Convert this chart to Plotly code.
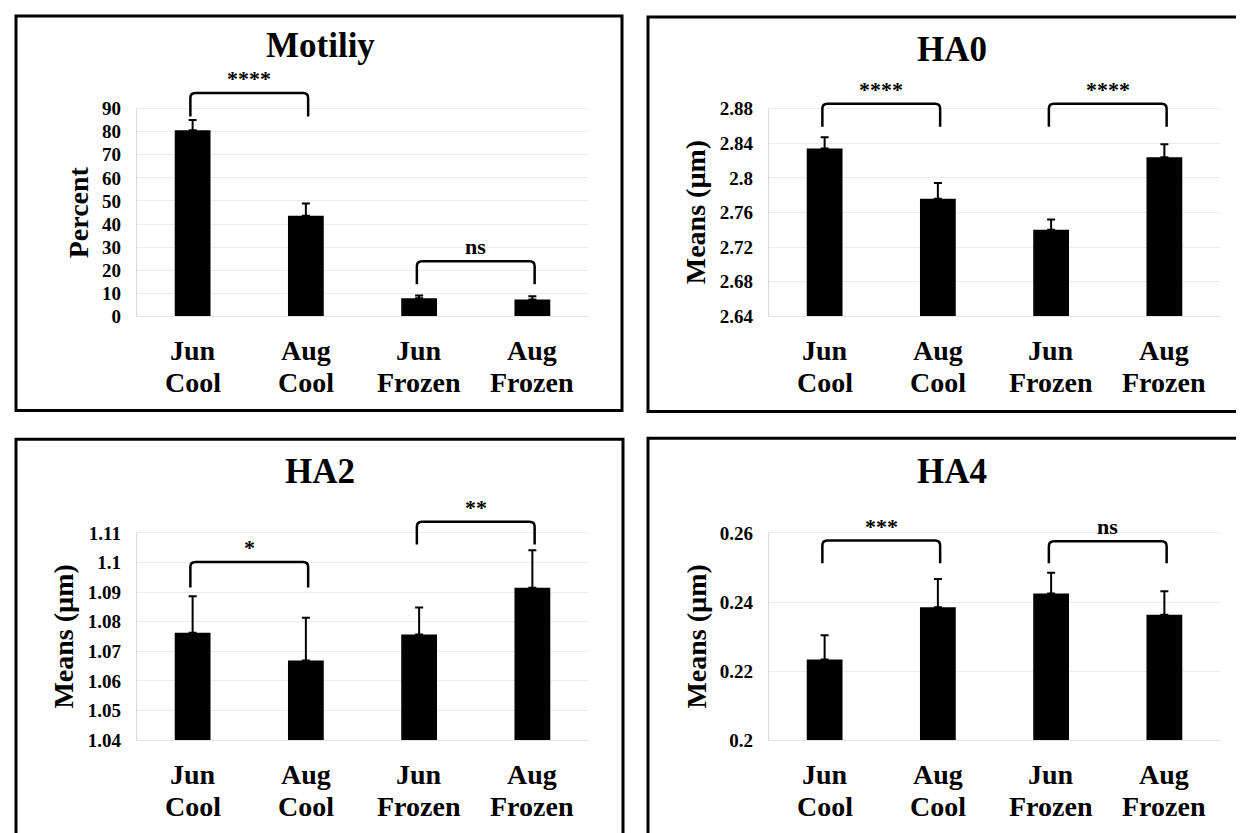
import plotly.graph_objects as go

# ---------------- data ----------------
months = ["Jun", "Aug", "Jun", "Aug"]
storage = ["Cool", "Cool", "Frozen", "Frozen"]
positions = [0, 1, 2, 3]

panel_titles = ["Motiliy", "HA0", "HA2", "HA4"]
y_titles = ["Percent", "Means (µm)", "Means (µm)", "Means (µm)"]

motility_mean = [80.6, 43.6, 7.9, 7.3]
motility_err = [4.5, 5.3, 1.1, 1.4]
ha0_mean = [2.834, 2.776, 2.740, 2.824]
ha0_err = [0.013, 0.018, 0.012, 0.015]
ha2_mean = [1.0763, 1.0669, 1.0757, 1.0915]
ha2_err = [0.0123, 0.0145, 0.0091, 0.0127]
ha4_mean = [0.2234, 0.2385, 0.2425, 0.2363]
ha4_err = [0.0070, 0.0082, 0.0060, 0.0068]

motility_ticks = [0, 10, 20, 30, 40, 50, 60, 70, 80, 90]
motility_ticklabels = ["0", "10", "20", "30", "40", "50", "60", "70", "80", "90"]
ha0_ticks = [2.64, 2.68, 2.72, 2.76, 2.80, 2.84, 2.88]
ha0_ticklabels = ["2.64", "2.68", "2.72", "2.76", "2.8", "2.84", "2.88"]
ha2_ticks = [1.04, 1.05, 1.06, 1.07, 1.08, 1.09, 1.10, 1.11]
ha2_ticklabels = ["1.04", "1.05", "1.06", "1.07", "1.08", "1.09", "1.1", "1.11"]
ha4_ticks = [0.20, 0.22, 0.24, 0.26]
ha4_ticklabels = ["0.2", "0.22", "0.24", "0.26"]

# significance brackets: (left bar, right bar, bracket level, leg end level, label)
motility_sig = [(0, 1, 96.8, 86.6, "****"), (2, 3, 23.9, 13.9, "ns")]
ha0_sig = [(0, 1, 2.8857, 2.859, "****"), (2, 3, 2.8857, 2.859, "****")]
ha2_sig = [(0, 1, 1.1002, 1.0916, "*"), (2, 3, 1.1138, 1.1061, "**")]
ha4_sig = [(0, 1, 0.2578, 0.2512, "***"), (2, 3, 0.2576, 0.2512, "ns")]

# ---------------- layout geometry (pixels) ----------------
W, H = 1244, 833
FONT = "'Liberation Serif', 'Times New Roman', serif"
panels = [
    dict(box=(8, 8, 614, 408), px=(128, 581), py=(102, 312.5), title_xy=(312, 38), ytitle_xy=(70, 207),
         mean=motility_mean, err=motility_err, ticks=motility_ticks, tl=motility_ticklabels, sig=motility_sig),
    dict(box=(640, 9, 1243, 409), px=(760, 1213), py=(102, 312.5), title_xy=(944, 42), ytitle_xy=(687, 207),
         mean=ha0_mean, err=ha0_err, ticks=ha0_ticks, tl=ha0_ticklabels, sig=ha0_sig),
    dict(box=(8, 437, 615, 905), px=(128, 581), py=(532, 742), title_xy=(312, 470), ytitle_xy=(56, 637),
         mean=ha2_mean, err=ha2_err, ticks=ha2_ticks, tl=ha2_ticklabels, sig=ha2_sig),
    dict(box=(640, 436, 1243, 905), px=(760, 1213), py=(532, 742), title_xy=(944, 470), ytitle_xy=(689, 637),
         mean=ha4_mean, err=ha4_err, ticks=ha4_ticks, tl=ha4_ticklabels, sig=ha4_sig),
]
EXTRA = 60          # px of headroom above the top tick for brackets
ROW1, ROW2 = 35, 67  # px below plot bottom for the two category-label lines

fig = go.Figure()
shapes = []
annotations = []
layout_axes = {}
label_font = dict(family=FONT, size=28, color="black", weight="bold")

for k, p in enumerate(panels, start=1):
    xa, ya = f"x{k}", f"y{k}"
    ymin, ymaxt = p["ticks"][0], p["ticks"][-1]
    top_px, bot_px = p["py"]
    ppu = (bot_px - top_px) / (ymaxt - ymin)
    ytop = ymaxt + EXTRA / ppu
    ppc = (p["px"][1] - p["px"][0]) / 4.0

    fig.add_trace(go.Bar(
        x=positions, y=p["mean"], width=0.316,
        marker=dict(color="black", line=dict(width=0)),
        error_y=dict(type="data", array=p["err"], arrayminus=[0] * 4, symmetric=False,
                     color="black", thickness=2, width=4),
        xaxis=xa, yaxis=ya, showlegend=False, hoverinfo="skip"))

    layout_axes[f"xaxis{k}"] = dict(
        domain=[p["px"][0] / W, p["px"][1] / W], anchor=ya, range=[-0.5, 3.5],
        tickvals=positions, showticklabels=False, ticks="", showgrid=False, zeroline=False,
        showline=True, linecolor="#e6e6e6", linewidth=1)
    layout_axes[f"yaxis{k}"] = dict(
        domain=[1 - bot_px / H, 1 - (top_px - EXTRA) / H], anchor=xa, range=[ymin, ytop],
        tickvals=p["ticks"], ticktext=p["tl"], ticks="", showgrid=True, gridcolor="#ececec",
        gridwidth=1, zeroline=False, showline=False,
        tickfont=dict(family=FONT, size=19, color="black", weight="bold"),
        ticklabelstandoff=14)

    # category labels (two lines) anchored to the x axis positions
    for i in positions:
        annotations.append(dict(x=i, y=1 - (bot_px + ROW1) / H, xref=xa, yref="paper", text=months[i],
                                showarrow=False, xanchor="center", yanchor="middle", font=label_font))
        annotations.append(dict(x=i, y=1 - (bot_px + ROW2) / H, xref=xa, yref="paper", text=storage[i],
                                showarrow=False, xanchor="center", yanchor="middle", font=label_font))

    # y-axis line (only over tick range)
    shapes.append(dict(type="line", xref=xa, yref=ya, x0=-0.5, x1=-0.5, y0=ymin, y1=ymaxt,
                       line=dict(color="#cfcfcf", width=1.5)))

    # brackets
    rx, ry = 5 / ppc, 5 / ppu
    for (l, r, lev, leg, lab) in p["sig"]:
        xl, xr = l - 0.02, r + 0.02
        path = (f"M {xl},{leg} L {xl},{lev - ry} Q {xl},{lev} {xl + rx},{lev} "
                f"L {xr - rx},{lev} Q {xr},{lev} {xr},{lev - ry} L {xr},{leg}")
        shapes.append(dict(type="path", xref=xa, yref=ya, path=path,
                           line=dict(color="black", width=2.5)))
        annotations.append(dict(x=(l + r) / 2, y=lev, xref=xa, yref=ya, text=lab, showarrow=False,
                                yanchor="bottom", xanchor="center",
                                font=dict(family=FONT, size=22, color="black", weight="bold")))

    # panel frame
    x0, y0, x1, y1 = p["box"]
    shapes.append(dict(type="rect", xref="paper", yref="paper", x0=x0 / W, x1=x1 / W,
                       y0=1 - y1 / H, y1=1 - y0 / H, line=dict(color="black", width=3),
                       fillcolor="rgba(0,0,0,0)"))

    # titles
    tx, ty = p["title_xy"]
    annotations.append(dict(x=tx / W, y=1 - ty / H, xref="paper", yref="paper", text=panel_titles[k - 1],
                            showarrow=False, xanchor="center", yanchor="middle",
                            font=dict(family=FONT, size=35, color="black", weight="bold")))
    yx, yy = p["ytitle_xy"]
    annotations.append(dict(x=yx / W, y=1 - yy / H, xref="paper", yref="paper", text=y_titles[k - 1],
                            showarrow=False, xanchor="center", yanchor="middle", textangle=-90,
                            font=dict(family=FONT, size=28, color="black", weight="bold")))

fig.update_layout(
    width=W, height=H, autosize=False,
    margin=dict(l=0, r=0, t=0, b=0),
    paper_bgcolor="white", plot_bgcolor="white",
    shapes=shapes, annotations=annotations, showlegend=False,
    **layout_axes)

fig.write_html("out.html")
